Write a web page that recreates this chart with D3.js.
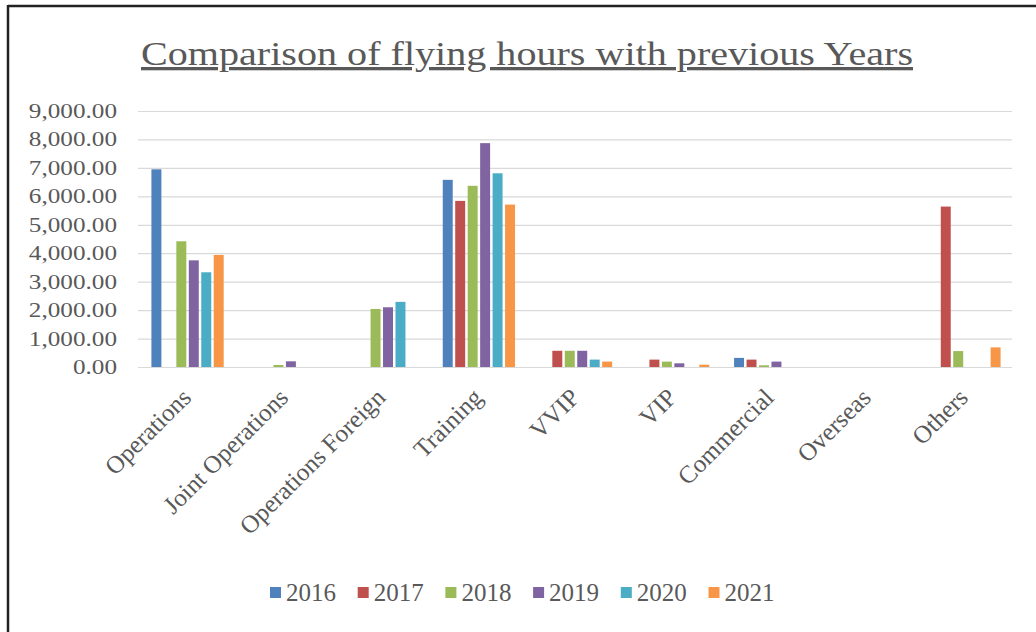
<!DOCTYPE html>
<html>
<head>
<meta charset="utf-8">
<script src="https://d3js.org/d3.v7.min.js"></script>
<style>
  body { margin: 0; background: #fff; }
  svg text { font-family: "Liberation Serif", "Times New Roman", serif; fill: #595959; }
</style>
</head>
<body>
<div id="chart"></div>
<script>
var categories = ["Operations", "Joint Operations", "Operations Foreign", "Training", "VVIP", "VIP", "Commercial", "Overseas", "Others"];
var years = ["2016", "2017", "2018", "2019", "2020", "2021"];
var colors = ["#4F81BD", "#C0504D", "#9BBB59", "#8064A2", "#4BACC6", "#F79646"];

// one array per year, in category order
var hours2016 = [6950, 0, 0, 6580, 0, 0, 320, 0, 0];
var hours2017 = [0, 0, 0, 5840, 570, 260, 260, 0, 5640];
var hours2018 = [4420, 70, 2040, 6370, 570, 190, 60, 0, 560];
var hours2019 = [3750, 200, 2100, 7870, 570, 130, 190, 0, 0];
var hours2020 = [3330, 0, 2290, 6810, 260, 0, 0, 0, 0];
var hours2021 = [3940, 0, 0, 5710, 190, 80, 0, 0, 690];
var series = [hours2016, hours2017, hours2018, hours2019, hours2020, hours2021];

var yTicks = [0, 1000, 2000, 3000, 4000, 5000, 6000, 7000, 8000, 9000];

const width = 1036;
const height = 632;
const plotLeft = 138, plotRight = 1012, plotTop = 111, plotBottom = 367;
const serif = '"Liberation Serif", "Times New Roman", serif';

var svg = d3.select('#chart')
    .append('svg')
    .attr('width', width)
    .attr('height', height);

// frame edges (top and left only, as in the scan)
svg.append('line').attr('x1', 8).attr('x2', width).attr('y1', 6).attr('y2', 6)
    .style('stroke', '#222').style('stroke-width', 2.5);
svg.append('line').attr('x1', 8).attr('x2', 8).attr('y1', 5).attr('y2', height)
    .style('stroke', '#222').style('stroke-width', 2.5);

// title
svg.append('text')
    .attr('x', 141).attr('y', 65)
    .attr('textLength', 772)
    .attr('lengthAdjust', 'spacingAndGlyphs')
    .style('font-size', '33px')
    .style('text-decoration', 'underline')
    .text('Comparison of flying hours with previous Years');

var y = d3.scaleLinear()
    .domain([0, 9000])
    .range([plotBottom, plotTop]);

var x0 = d3.scaleBand()
    .domain(categories)
    .range([plotLeft, plotRight])
    .paddingInner(0.23)
    .paddingOuter(0.115);

var x1 = d3.scaleBand()
    .domain(years)
    .range([0, x0.bandwidth()])
    .paddingInner(0.2)
    .paddingOuter(0.1);

// gridlines
svg.append('g')
    .attr('class', 'grid')
    .attr('transform', 'translate(' + plotLeft + ',0)')
    .call(d3.axisLeft(y).tickValues(yTicks).tickSize(-(plotRight - plotLeft)).tickFormat(''))
    .call(function(g) {
        g.select('.domain').remove();
        g.selectAll('line').style('stroke', '#d9d9d9').style('stroke-width', 1.2);
    });

// y labels, drawn wide like the source
svg.append('g')
    .selectAll('text')
    .data(yTicks)
    .enter().append('text')
    .attr('transform', function(d) { return 'translate(117,' + (y(d) + 7) + ') scale(1.2,1)'; })
    .attr('text-anchor', 'end')
    .style('font-size', '21px')
    .text(function(d) { return d3.format(',.2f')(d); });

// bars
var group = svg.selectAll('.year')
    .data(series)
    .enter().append('g')
    .attr('class', 'year')
    .style('fill', function(d, i) { return colors[i]; });

group.selectAll('rect')
    .data(function(d, i) { return d.map(function(v, j) { return { cat: categories[j], year: years[i], value: v }; }); })
    .enter().append('rect')
    .attr('x', function(d) { return x0(d.cat) + x1(d.year) + 1; })
    .attr('y', function(d) { return y(d.value); })
    .attr('width', x1.bandwidth())
    .attr('height', function(d) { return y(0) - y(d.value); });

// category labels at -45 degrees
svg.append('g')
    .selectAll('text')
    .data(categories)
    .enter().append('text')
    .attr('transform', function(d) { return 'translate(' + (x0(d) + x0.bandwidth() / 2 + 6) + ',399) rotate(-45)'; })
    .attr('text-anchor', 'end')
    .style('font-size', '25px')
    .text(function(d) { return d; });

// legend
var legend = svg.append('g')
    .selectAll('g')
    .data(years)
    .enter().append('g')
    .attr('transform', function(d, i) { return 'translate(' + (270 + i * 87.7) + ',587)'; });

legend.append('rect')
    .attr('width', 11).attr('height', 11)
    .style('fill', function(d, i) { return colors[i]; });

legend.append('text')
    .attr('x', 16).attr('y', 14)
    .style('font-family', serif)
    .style('font-size', '25px')
    .text(function(d) { return d; });
</script>
</body>
</html>
